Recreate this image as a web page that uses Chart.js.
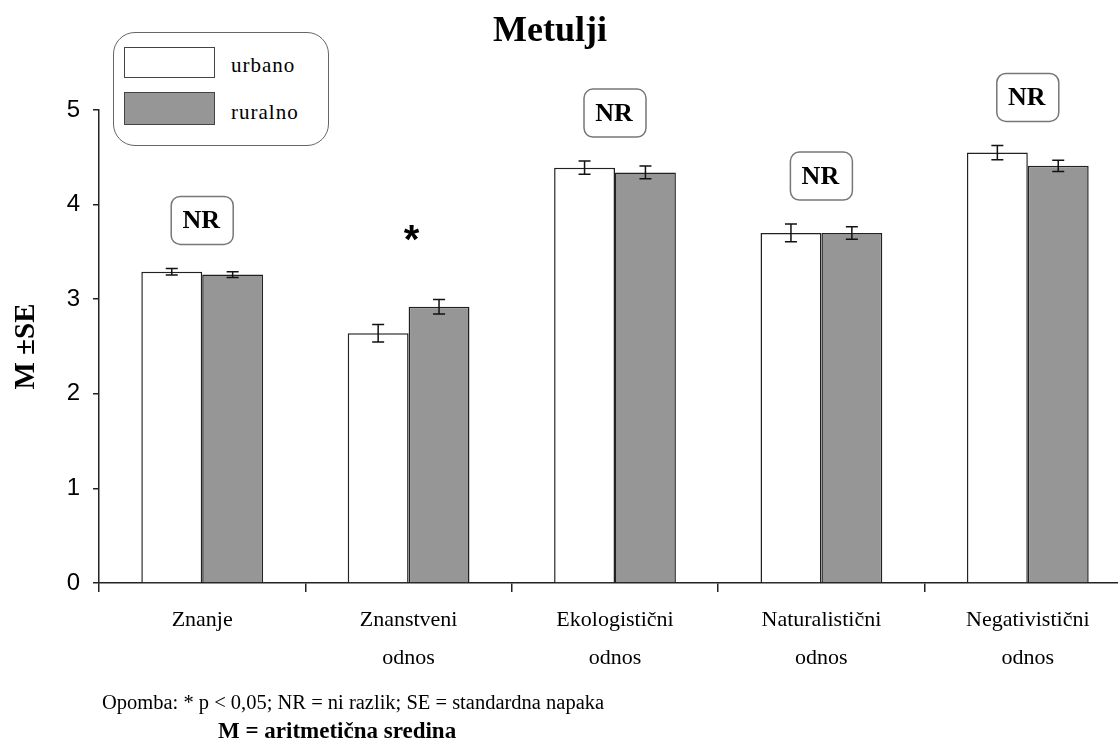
<!DOCTYPE html>
<html lang="sl">
<head>
<meta charset="utf-8">
<title>Metulji</title>
<script src="https://cdn.jsdelivr.net/npm/chart.js@4.4.1/dist/chart.umd.min.js"></script>
<style>
    html, body { margin: 0; padding: 0; background: #fff; }
    body { width: 1118px; height: 751px; overflow: hidden; position: relative; font-family: "Liberation Serif", serif; }
    #okvir { position: absolute; left: 0; top: 0; width: 1131px; height: 751px; }
    .besedilo { position: absolute; line-height: 1; white-space: nowrap; color: #000; }
    #naslov { left: 0; width: 1100px; top: 11px; text-align: center; font-size: 36px; font-weight: bold; }
    #legenda { position: absolute; left: 113px; top: 32px; width: 216px; height: 114px; box-sizing: border-box;
               border: 1.5px solid #666; border-radius: 22px; background: #fff; }
    .vzorec { position: absolute; left: 124px; width: 91px; box-sizing: border-box; border: 1.5px solid #444; }
    .legBes { left: 231px; font-size: 21px; letter-spacing: 1px; }
</style>
</head>
<body>
<div id="okvir"><canvas id="graf" width="1131" height="751"></canvas></div>

<div id="naslov" class="besedilo">Metulji</div>

<div id="legenda"></div>
<div class="vzorec" style="top:47px;height:31px;background:#fff;"></div>
<div class="vzorec" style="top:92px;height:33px;background:#969696;"></div>
<div class="besedilo legBes" style="top:55px;">urbano</div>
<div class="besedilo legBes" style="top:102px;">ruralno</div>

<div class="besedilo" style="left:102px;top:692px;font-size:20.5px;">Opomba: * p &lt; 0,05; NR = ni razlik; SE = standardna napaka</div>
<div class="besedilo" style="left:218px;top:719px;font-size:23px;font-weight:bold;">M = aritmetična sredina</div>

<script>
// ============================
// Podatki (odčitano s slike)
// ============================
const kategorije = [
    ["Znanje"],
    ["Znanstveni", "odnos"],
    ["Ekologistični", "odnos"],
    ["Naturalistični", "odnos"],
    ["Negativistični", "odnos"]
];
const urbano = [3.29, 2.64, 4.39, 3.70, 4.55];
const ruralno = [3.26, 2.92, 4.34, 3.70, 4.41];
const napakaUrbano = [0.035, 0.093, 0.07, 0.094, 0.075];
const napakaRuralno = [0.03, 0.076, 0.067, 0.067, 0.06];
const oznake = ["NR", "*", "NR", "NR", "NR"];
const yOznake = [0, 1, 2, 3, 4, 5];

// ============================
// Napake (± SE) - narisane na vsak stolpec
// ============================
const napakePlugin = {
    id: "napake",
    afterDatasetsDraw(chart) {
        const ctx = chart.ctx;
        const y = chart.scales.y;
        const vseNapake = [napakaUrbano, napakaRuralno];
        ctx.save();
        ctx.strokeStyle = "#111";
        ctx.lineWidth = 1.5;
        chart.data.datasets.forEach((ds, i) => {
            const meta = chart.getDatasetMeta(i);
            meta.data.forEach((bar, j) => {
                const v = ds.data[j];
                const e = vseNapake[i][j];
                const yZg = y.getPixelForValue(v + e);
                const ySp = y.getPixelForValue(v - e);
                ctx.beginPath();
                ctx.moveTo(bar.x, yZg);
                ctx.lineTo(bar.x, ySp);
                ctx.moveTo(bar.x - 6, yZg);
                ctx.lineTo(bar.x + 6, yZg);
                ctx.moveTo(bar.x - 6, ySp);
                ctx.lineTo(bar.x + 6, ySp);
                ctx.stroke();
            });
        });
        ctx.restore();
    }
};

// ============================
// Oznake NR / * nad skupinami
// ============================
const oznakePlugin = {
    id: "oznake",
    afterDatasetsDraw(chart) {
        const ctx = chart.ctx;
        const x = chart.scales.x;
        const y = chart.scales.y;
        ctx.save();
        oznake.forEach((txt, j) => {
            const vrh = Math.min(
                y.getPixelForValue(urbano[j] + napakaUrbano[j]),
                y.getPixelForValue(ruralno[j] + napakaRuralno[j])
            );
            const cx = x.getPixelForValue(j);
            const cy = vrh - 48;
            if (txt === "*") {
                ctx.fillStyle = "#000";
                ctx.font = "bold 40px 'Liberation Sans'";
                ctx.textAlign = "center";
                ctx.textBaseline = "alphabetic";
                ctx.fillText(txt, cx + 3, cy + 1);
                return;
            }
            ctx.beginPath();
            ctx.roundRect(cx - 31, cy - 24, 62, 48, 9);
            ctx.fillStyle = "#fff";
            ctx.fill();
            ctx.lineWidth = 1.5;
            ctx.strokeStyle = "#777";
            ctx.stroke();
            ctx.fillStyle = "#000";
            ctx.font = "bold 26px 'Liberation Serif'";
            ctx.textAlign = "center";
            ctx.textBaseline = "middle";
            ctx.fillText(txt, cx - 1, cy + 1);
        });
        ctx.restore();
    }
};

// ============================
// Graf
// ============================
const ctx = document.getElementById("graf").getContext("2d");
new Chart(ctx, {
    type: "bar",
    data: {
        labels: kategorije,
        datasets: [
            {
                label: "urbano",
                data: urbano,
                backgroundColor: "#ffffff",
                borderColor: "#222",
                borderWidth: 1.5
            },
            {
                label: "ruralno",
                data: ruralno,
                backgroundColor: "#969696",
                borderColor: "#222",
                borderWidth: 1.5
            }
        ]
    },
    options: {
        responsive: false,
        animation: false,
        devicePixelRatio: 1,
        layout: { padding: { top: 110, left: 0, right: 0, bottom: 0 } },
        datasets: { bar: { categoryPercentage: 0.59, barPercentage: 1.0 } },
        plugins: {
            legend: { display: false },
            tooltip: { enabled: false },
            title: { display: false }
        },
        scales: {
            x: {
                afterFit: (s) => { s.height = 168; },
                grid: { drawOnChartArea: false, drawTicks: true, tickLength: 9, color: "#222", lineWidth: 1.5 },
                border: { color: "#222", width: 1.5 },
                ticks: {
                    color: "#000",
                    padding: 10,
                    maxRotation: 0,
                    autoSkip: false,
                    font: { family: "'Liberation Serif'", size: 22, lineHeight: 1.7 }
                }
            },
            y: {
                min: 0,
                max: 5,
                afterFit: (s) => { s.width = 99; },
                afterBuildTicks: (s) => { s.ticks = yOznake.map(v => ({ value: v })); },
                grid: { drawOnChartArea: false, drawTicks: true, tickLength: 6, color: "#222", lineWidth: 1.5 },
                border: { color: "#222", width: 1.5 },
                ticks: {
                    color: "#000",
                    padding: 13,
                    font: { family: "'Liberation Sans'", size: 24 }
                },
                title: {
                    display: true,
                    text: "M ±SE",
                    color: "#000",
                    padding: { top: 9, bottom: 0 },
                    font: { family: "'Liberation Serif'", size: 29, weight: "bold" }
                }
            }
        }
    },
    plugins: [napakePlugin, oznakePlugin]
});
</script>
</body>
</html>
